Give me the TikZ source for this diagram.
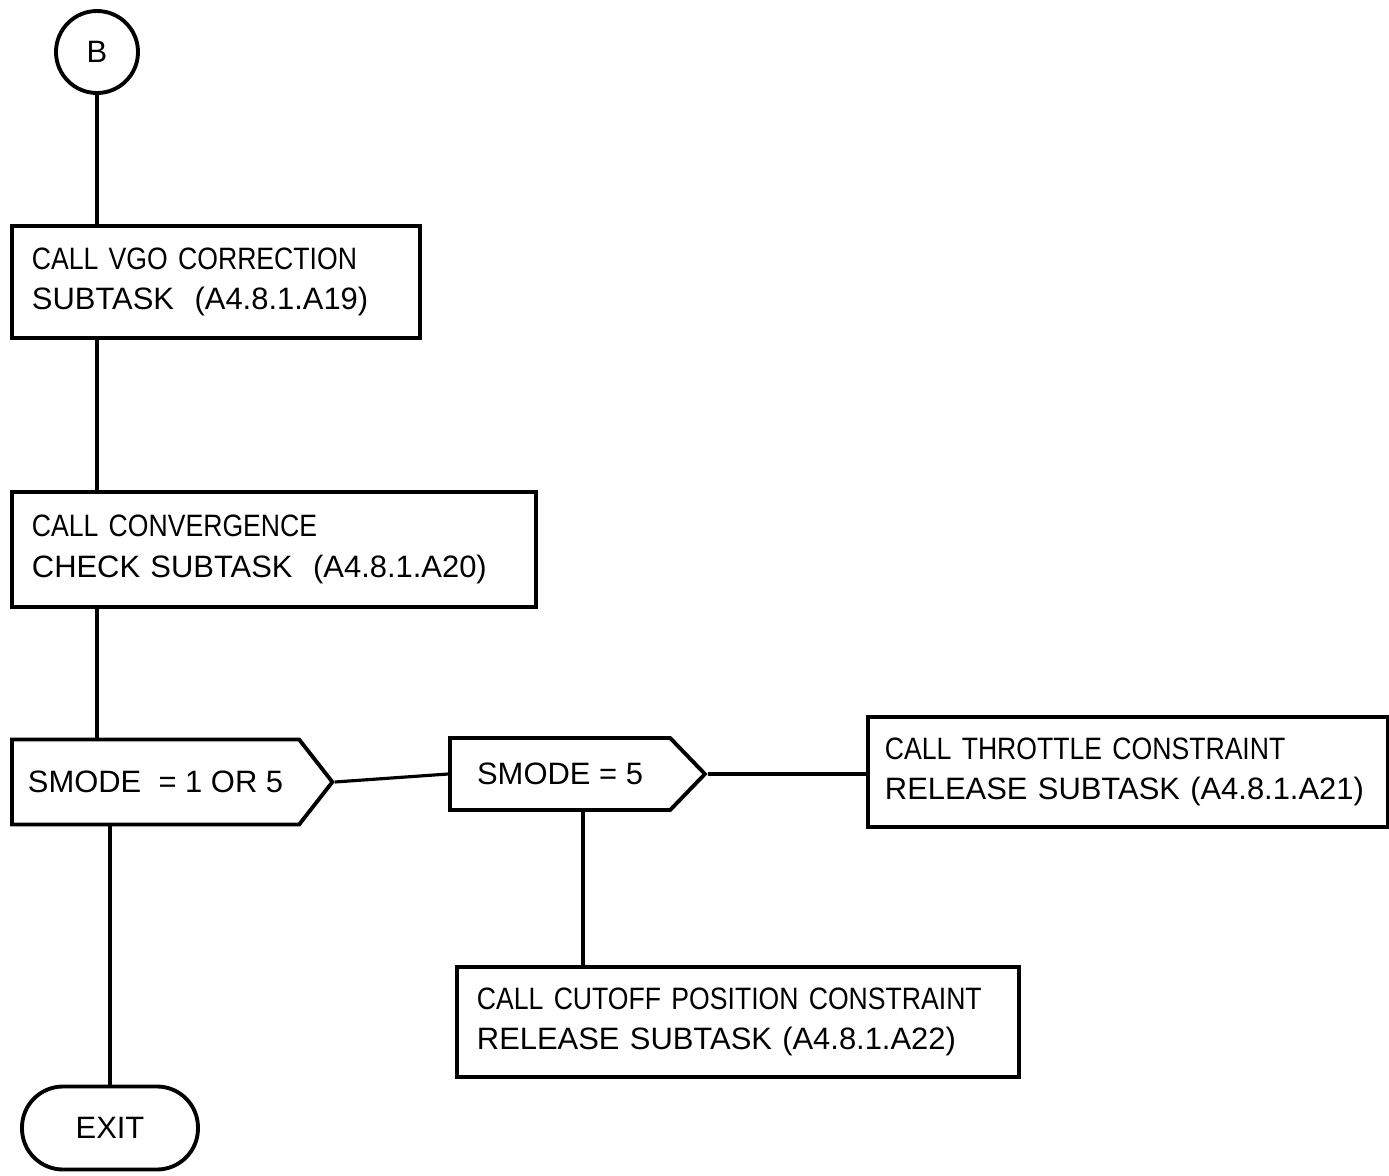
\documentclass[tikz,border=0pt]{standalone}
\usepackage{fontspec}
\setmainfont{Liberation Sans}
\newfontfamily\narrowfont[FakeStretch=0.86]{Liberation Sans}
\usetikzlibrary{shapes.symbols}

\begin{document}
\begin{tikzpicture}[x=0.1mm,y=-0.1mm,line width=0.9pt,
  every node/.style={font=\fontsize{8.8}{11.6}\selectfont},
  task/.style={draw,line width=1.1pt,anchor=north west,align=left,inner xsep=2mm,inner ysep=0pt},
  test/.style={draw,line width=1.1pt,shape=signal,signal to=east,anchor=west,inner xsep=1.6mm,inner ysep=0pt},
  conn/.style={draw,circle,line width=1.1pt,minimum size=8.2mm,inner sep=0pt},
  stop/.style={draw,line width=1.1pt,rounded corners=4.1mm,minimum width=17.6mm,minimum height=8.3mm}]

\useasboundingbox (0,0) rectangle (1389,1176);

\node[conn] (b) at (97,52) {B};
\node[task,text width=36.8mm,minimum height=11.2mm] (vgo) at (10,224) {{\narrowfont CALL VGO CORRECTION}\\SUBTASK~~(A4.8.1.A19)};
\node[task,text width=48.4mm,minimum height=11.5mm] (conv) at (10,490) {{\narrowfont CALL CONVERGENCE}\\CHECK SUBTASK~~(A4.8.1.A20)};
\node[test,minimum width=31.8mm,minimum height=8.5mm,signal pointer angle=104] (d1) at (10,782) {SMODE~~= 1 OR 5};
\node[test,minimum width=25.5mm,minimum height=7.2mm,signal pointer angle=92] (d2) at (448,774) {SMODE = 5};
\node[task,text width=48.6mm,minimum height=11mm,inner xsep=1.7mm] (thr) at (866,715) {{\narrowfont CALL THROTTLE CONSTRAINT}\\RELEASE SUBTASK (A4.8.1.A21)};
\node[task,text width=52.2mm,minimum height=11mm] (cut) at (455,965) {{\narrowfont CALL CUTOFF POSITION CONSTRAINT}\\RELEASE SUBTASK (A4.8.1.A22)};
\node[stop] (exit) at (110,1128) {EXIT};

\draw (b) -- (b |- vgo.north);
\draw (b |- vgo.south) -- (b |- conv.north);
\draw (b |- conv.south) -- (b |- d1.north);
\draw (exit |- d1.south) -- (exit);
\draw (d1.east) -- (d2.west);
\draw (d2.east) -- (d2.east -| thr.west);
\draw ([xshift=2.3mm]d2.south) -- ([xshift=2.3mm]d2.south |- cut.north);

\end{tikzpicture}
\end{document}
